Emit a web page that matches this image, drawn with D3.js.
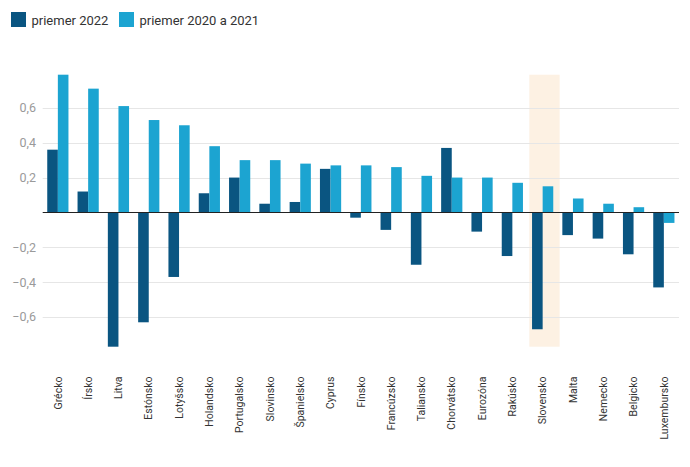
<!DOCTYPE html>
<html><head><meta charset="utf-8">
<script src="https://cdn.jsdelivr.net/npm/d3@7"></script>
<style>
body{margin:0;background:#fff;font-family:Roboto,"Noto Sans",sans-serif;}
</style></head>
<body><svg id="c" width="690" height="467"></svg>
<script>
const categories = ["Grécko","Írsko","Litva","Estónsko","Lotyšsko","Holandsko","Portugalsko","Slovinsko","Španielsko","Cyprus","Fínsko","Francúzsko","Taliansko","Chorvátsko","Eurozóna","Rakúsko","Slovensko","Malta","Nemecko","Belgicko","Luxembursko"];
const avg2022 = [0.36,0.12,-0.77,-0.63,-0.37,0.11,0.20,0.05,0.06,0.25,-0.03,-0.10,-0.30,0.37,-0.11,-0.25,-0.67,-0.13,-0.15,-0.24,-0.43];
const avg2020_2021 = [0.79,0.71,0.61,0.53,0.50,0.38,0.30,0.30,0.28,0.27,0.27,0.26,0.21,0.20,0.20,0.17,0.15,0.08,0.05,0.03,-0.06];
const seriesNames = ["priemer 2022","priemer 2020 a 2021"];
const yTicks = [-0.6,-0.4,-0.2,0.2,0.4,0.6];
const highlight = "Slovensko";
const colors = ["#0a5581","#1ca4d1"];

const svg = d3.select("#c");
const yMin = d3.min([...avg2022,...avg2020_2021]);
const yMax = d3.max([...avg2022,...avg2020_2021]);
const y = d3.scaleLinear().domain([yMin,yMax]).range([346.7,74.7]);
const x = d3.scaleBand().domain(categories).range([42.7,679]).paddingInner(0.3).paddingOuter(0.15);
const x1 = d3.scaleBand().domain([0,1]).range([0,x.bandwidth()]);

// highlight
const step = x.step();
svg.append("rect")
  .attr("x", x(highlight) - (step - x.bandwidth())*0.3)
  .attr("width", step)
  .attr("y", y(yMax)).attr("height", y(yMin)-y(yMax))
  .attr("fill","#fdf1e3");

// gridlines
svg.append("g").selectAll("line").data(yTicks).join("line")
  .attr("x1",42.7).attr("x2",679)
  .attr("y1",d=>Math.round(y(d))+0.5).attr("y2",d=>Math.round(y(d))+0.5)
  .attr("stroke","#e6e6e6").attr("stroke-width",1);

// y labels
const fmt = d => (d<0?"\u2212":"") + Math.abs(d).toFixed(1).replace(".",",");
svg.append("g").selectAll("text").data(yTicks).join("text")
  .attr("x",36).attr("y",d=>y(d)).attr("dy","0.35em")
  .attr("text-anchor","end").attr("font-size",12.5).attr("fill","#9a9a9a")
  .text(fmt);

// bars
const series = [avg2022, avg2020_2021];
series.forEach((vals,si)=>{
  svg.append("g").selectAll("rect").data(vals).join("rect")
    .attr("x",(d,i)=>x(categories[i])+x1(si))
    .attr("width",x1.bandwidth())
    .attr("y",d=>y(Math.max(0,d)))
    .attr("height",d=>Math.abs(y(d)-y(0)))
    .attr("fill",colors[si]);
});

// zero line
svg.append("line").attr("x1",42.7).attr("x2",679)
  .attr("y1",Math.round(y(0))+0.5).attr("y2",Math.round(y(0))+0.5)
  .attr("stroke","#222").attr("stroke-width",1);

// x labels
svg.append("g").selectAll("text").data(categories).join("text")
  .attr("transform",d=>`translate(${x(d)+x.bandwidth()/2},376.5) rotate(-90)`)
  .attr("dy","0.35em").attr("text-anchor","end")
  .attr("font-size",10.5).attr("fill","#333")
  .text(d=>d);

// legend
const lg = svg.append("g");
const lx = [11,119];
seriesNames.forEach((n,i)=>{
  lg.append("rect").attr("x",lx[i]).attr("y",12).attr("width",15).attr("height",15).attr("fill",colors[i]);
  lg.append("text").attr("x",lx[i]+20.5).attr("y",25).attr("font-size",13).attr("fill","#333").text(n);
});
</script></body></html>
